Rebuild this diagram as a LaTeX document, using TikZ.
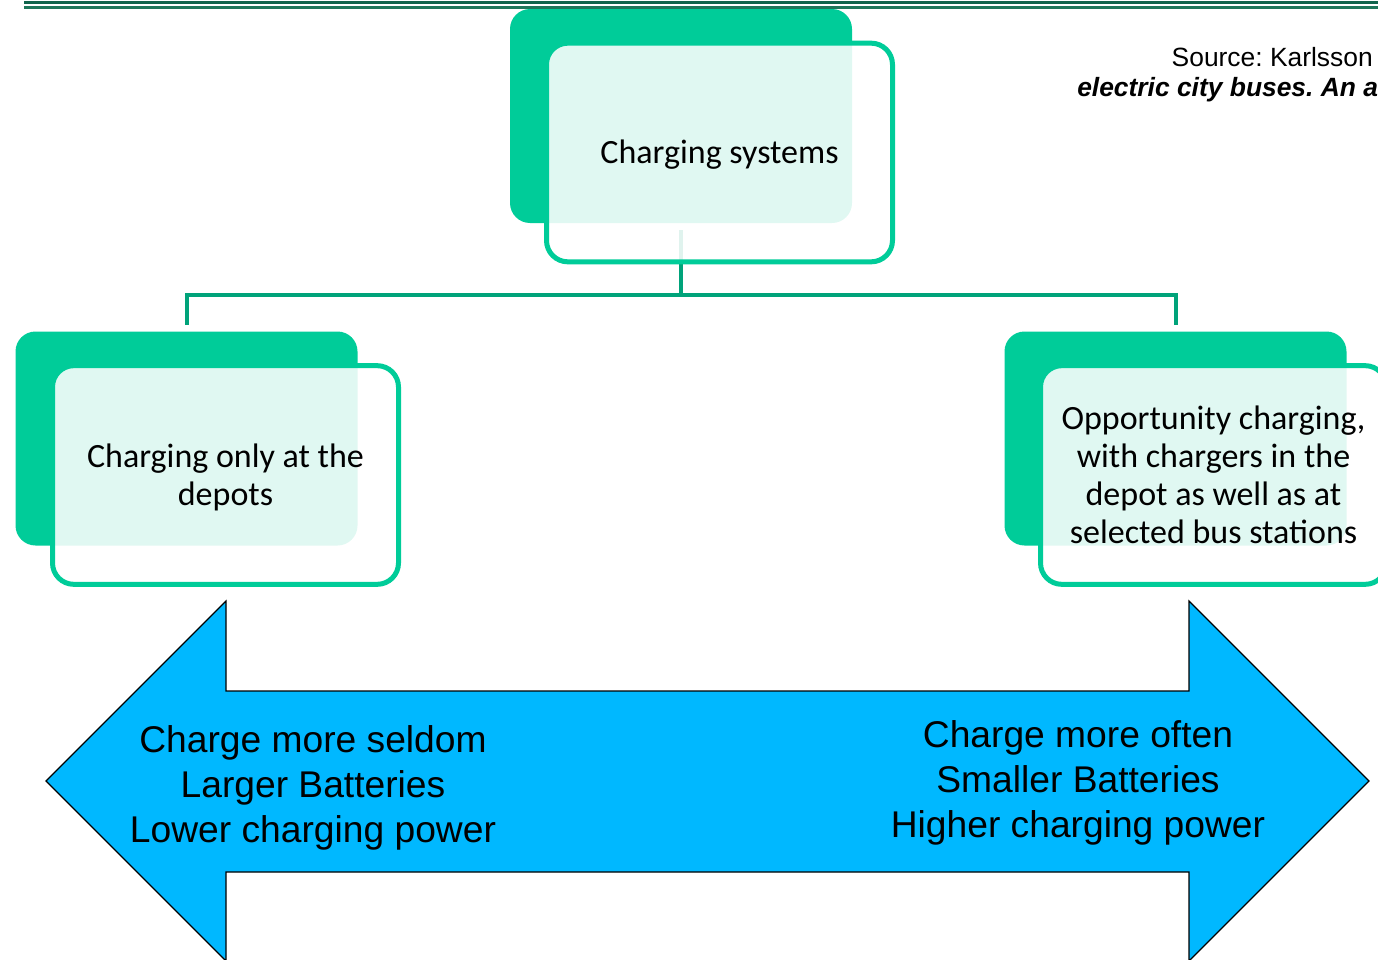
\documentclass[tikz,border=0pt]{standalone}
\usepackage{fontspec}
\setmainfont{Carlito}
\newfontfamily\arialf{Liberation Sans}
\frenchspacing
\definecolor{boxgreen}{RGB}{0,204,153}
\definecolor{conngreen}{RGB}{0,163,122}
\definecolor{topline}{RGB}{16,100,76}
\definecolor{toplineb}{RGB}{30,118,90}
\definecolor{arrowblue}{RGB}{0,184,255}
\tikzset{
  greenbox/.style={draw=none, fill=boxgreen, rounded corners=15pt, inner sep=0pt,
    minimum width=256.5pt, minimum height=160.5pt},
  frontbox/.style={draw=boxgreen, line width=3.75pt, fill=white, fill opacity=0.88,
    rounded corners=16pt, inner sep=0pt,
    minimum width=259.5pt, minimum height=164pt},
  boxtxt/.style={align=center, inner sep=0pt, font=\fontsize{25.5pt}{28.5pt}\selectfont},
  conn/.style={draw=conngreen, line width=3pt},
  arrowtxt/.style={align=center, font=\arialf\fontsize{27.9pt}{33.75pt}\selectfont},
  srctxt/.style={inner sep=0pt, font=\arialf\fontsize{19.8pt}{24pt}\selectfont}
}
\begin{document}
\begin{tikzpicture}[x=0.75pt,y=-0.75pt]
\useasboundingbox (0,0) rectangle (1378,960);
% top rules
\draw[topline, line width=2.4pt] (24,2.6) -- (1378,2.6);
\draw[toplineb, line width=2.1pt] (24,7.6) -- (1378,7.6);
% source text
\node[srctxt, anchor=east] (src1) at (1373,57) {Source: Karlsson};
\node[srctxt, anchor=west, font=\arialf\bfseries\itshape\fontsize{19.8pt}{24pt}\selectfont] (src2) at (1077,90) {electric city buses. An a};
% back green boxes
\node[greenbox] (topg) at (681,116) {};
\node[greenbox] (leftg) at (186.5,438.5) {};
\node[greenbox] (rightg) at (1175.5,438.5) {};
% connectors
\coordinate (j) at (681,295);
\draw[conn] ([yshift=-5.25pt]topg.south) -- (j);
\draw[conn] (j) -| ([yshift=4.5pt]leftg.north);
\draw[conn] (j) -| ([yshift=4.5pt]rightg.north);
% front boxes
\node[frontbox] (topf) at (719.5,152.5) {};
\node[frontbox] (leftf) at (225.5,475) {};
\node[frontbox] (rightf) at (1213.5,475) {};
\node[boxtxt] (toptxt) at ([yshift=-1.5pt]topf.center) {Charging systems};
\node[boxtxt] (lefttxtb) at ([yshift=-1.5pt]leftf.center) {Charging only at the\\depots};
\node[boxtxt] (righttxtb) at (rightf.center) {Opportunity charging,\\with chargers in the\\depot as well as at\\selected bus stations};
% double arrow
\draw[fill=arrowblue, draw=black, line width=0.9pt, line join=miter]
  (46,781) -- (226,601) -- (226,691) -- (1189,691) -- (1189,601) -- (1369,781)
  -- (1189,961) -- (1189,872) -- (226,872) -- (226,961) -- cycle;
\node[arrowtxt] (lefttxt) at (313,788) {Charge more seldom\\Larger Batteries\\Lower charging power};
\node[arrowtxt] (righttxt) at (1078,783) {Charge more often\\Smaller Batteries\\Higher charging power};
\end{tikzpicture}
\end{document}
